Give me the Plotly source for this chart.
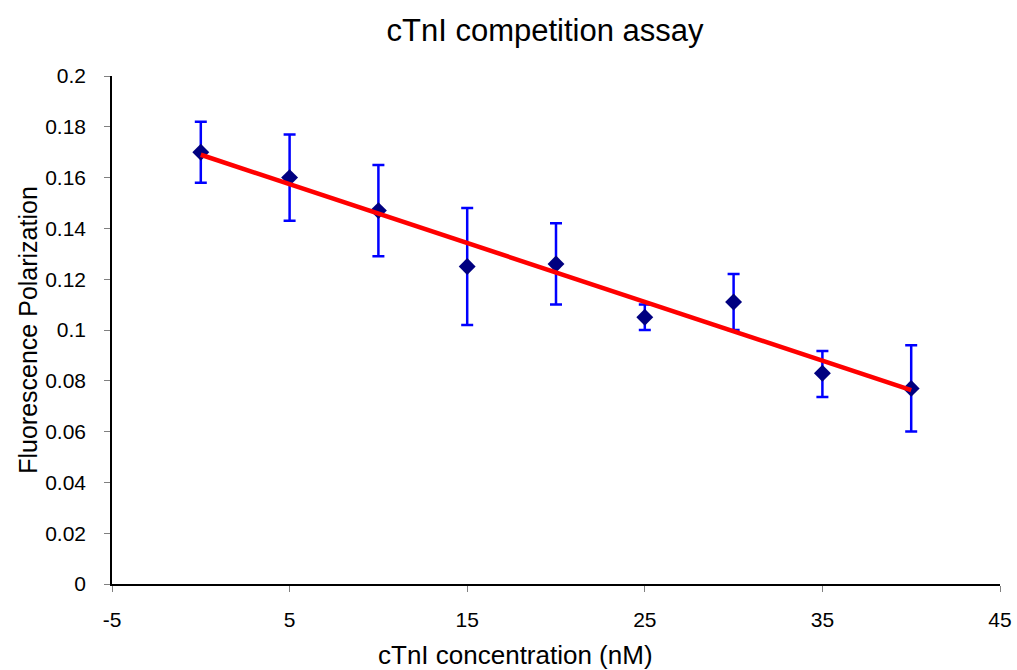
import numpy as np
import plotly.graph_objects as go

conc = [0, 5, 10, 15, 20, 25, 30, 35, 40]
fp = [0.170, 0.160, 0.147, 0.125, 0.126, 0.105, 0.111, 0.083, 0.077]
err_hi = [0.182, 0.177, 0.165, 0.148, 0.142, 0.110, 0.122, 0.0917, 0.094]
err_lo = [0.158, 0.143, 0.129, 0.102, 0.110, 0.100, 0.100, 0.0736, 0.060]

x_tick_vals = [-5, 5, 15, 25, 35, 45]
x_tick_text = ["-5", "5", "15", "25", "35", "45"]
y_tick_vals = [0, 0.02, 0.04, 0.06, 0.08, 0.1, 0.12, 0.14, 0.16, 0.18, 0.2]
y_tick_text = ["0", "0.02", "0.04", "0.06", "0.08", "0.1", "0.12", "0.14", "0.16", "0.18", "0.2"]

plus = [h - v for h, v in zip(err_hi, fp)]
minus = [v - l for l, v in zip(err_lo, fp)]

slope, intercept = np.polyfit(conc, fp, 1)
fit_x = [conc[0], conc[-1]]
fit_y = [intercept + slope * x for x in fit_x]

W, H = 1017, 670
ML, MR, MT, MB = 112, 17, 76, 86

fig = go.Figure()
fig.add_trace(go.Scatter(
    x=conc, y=fp, mode="markers",
    marker=dict(symbol="diamond", size=13, color="#000080"),
    error_y=dict(type="data", symmetric=False, array=plus, arrayminus=minus,
                 color="#0000FF", thickness=2.5, width=6),
    showlegend=False,
))
fig.add_trace(go.Scatter(
    x=fit_x, y=fit_y, mode="lines",
    line=dict(color="#FF0000", width=4.5),
    showlegend=False,
))

pw = W - ML - MR
ph = H - MT - MB
fig.add_annotation(
    text="cTnI concentration (nM)", showarrow=False,
    xref="paper", yref="paper",
    x=(515 - ML) / pw, y=-(655 - (H - MB)) / ph,
    xanchor="center", yanchor="middle",
    font=dict(size=26),
)

fig.update_layout(
    width=W, height=H,
    paper_bgcolor="white", plot_bgcolor="white",
    font=dict(family="Liberation Sans, Arial, sans-serif", color="black", size=21),
    title=dict(text="cTnI competition assay", x=545 / W, xanchor="center",
               y=1 - 30 / H, yanchor="middle", yref="container",
               font=dict(size=31)),
    margin=dict(l=ML, r=MR, t=MT, b=MB, autoexpand=False),
    xaxis=dict(range=[-5, 45], tickmode="array", tickvals=x_tick_vals, ticktext=x_tick_text,
               showline=True, linecolor="black", automargin=False,
               linewidth=1.5, ticks="outside", ticklen=6, tickcolor="#808080",
               tickfont=dict(size=21), ticklabelstandoff=10,
               showgrid=False, zeroline=False),
    yaxis=dict(range=[0, 0.2], tickmode="array", tickvals=y_tick_vals, ticktext=y_tick_text,
               showline=True, linecolor="black", automargin=False,
               linewidth=1.5, ticks="outside", ticklen=6, tickcolor="#808080",
               tickfont=dict(size=21), ticklabelstandoff=14,
               showgrid=False, zeroline=False,
               title=dict(text="Fluorescence Polarization", font=dict(size=25), standoff=0)),
)

fig.write_html("out.html", config={"displayModeBar": False},
               post_script="document.body.style.margin='0px';")
